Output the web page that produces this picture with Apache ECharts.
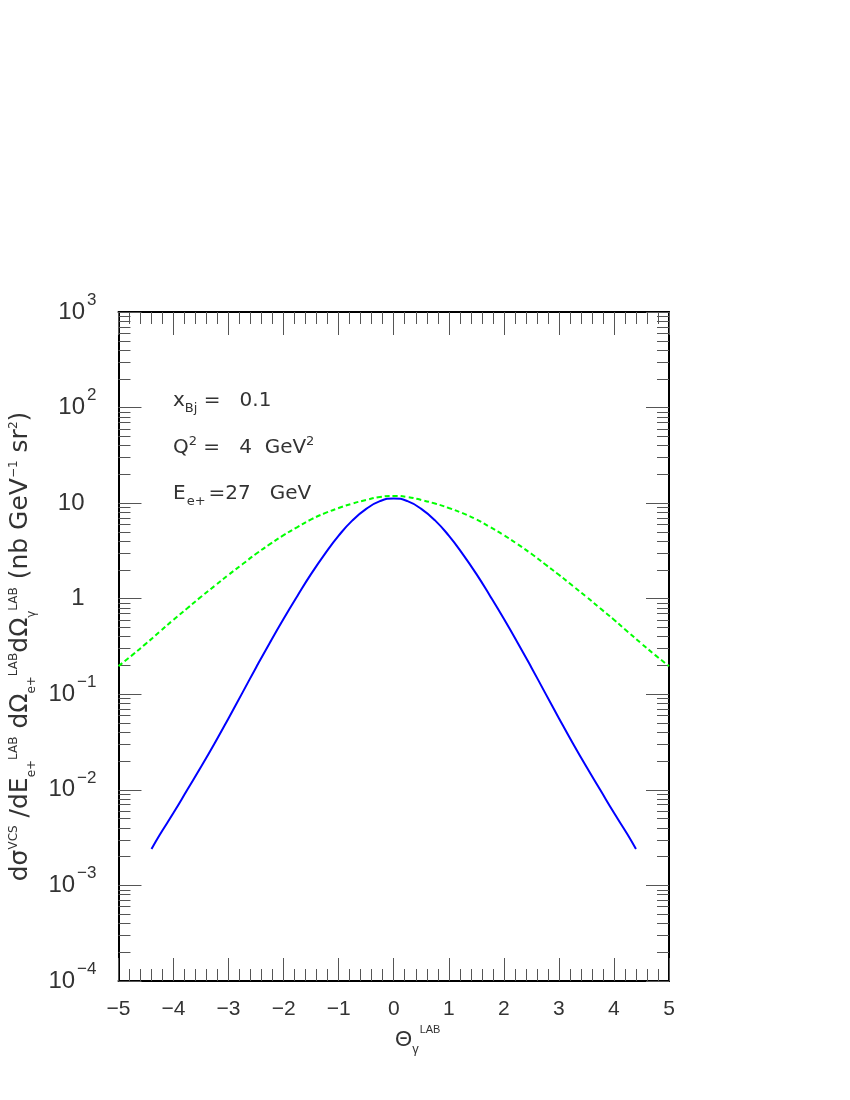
<!DOCTYPE html>
<html><head><meta charset="utf-8">
<script src="https://cdn.jsdelivr.net/npm/echarts@6/dist/echarts.min.js"></script>
<style>html,body{margin:0;padding:0;background:#fff}#c{width:850px;height:1100px}</style>
</head><body><div id="c"></div>
<script>
// Theta_gamma^LAB (deg) and cross sections (nb GeV^-1 sr^2)
const blueTheta = [-4.4,-4.25,-4.0,-3.75,-3.5,-3.25,-3.0,-2.75,-2.5,-2.25,-2.0,-1.75,-1.5,-1.25,-1.0,-0.75,-0.5,-0.25,0,
                    0.25,0.5,0.75,1.0,1.25,1.5,1.75,2.0,2.25,2.5,2.75,3.0,3.25,3.5,3.75,4.0,4.25,4.4];
const blueSigma = [0.0024,0.00339,0.00575,0.0100,0.0174,0.0309,0.0562,0.1035,0.191,0.347,0.617,1.07,1.82,2.95,4.57,6.6,8.7,10.5,11.2,
                    10.5,8.7,6.6,4.57,2.95,1.82,1.07,0.617,0.347,0.191,0.1035,0.0562,0.0309,0.0174,0.0100,0.00575,0.00339,0.0024];
const greenTheta = [-5.0,-4.75,-4.5,-4.25,-4.0,-3.75,-3.5,-3.25,-3.0,-2.75,-2.5,-2.25,-2.0,-1.75,-1.5,-1.25,-1.0,-0.75,-0.5,-0.25,0,
                     0.25,0.5,0.75,1.0,1.25,1.5,1.75,2.0,2.25,2.5,2.75,3.0,3.25,3.5,3.75,4.0,4.25,4.5,4.75,5.0];
const greenSigma = [0.197,0.257,0.339,0.452,0.603,0.794,1.047,1.365,1.78,2.29,2.95,3.72,4.62,5.62,6.76,7.85,8.9,9.9,10.8,11.6,11.9,
                     11.6,10.8,9.9,8.9,7.85,6.76,5.62,4.62,3.72,2.95,2.29,1.78,1.365,1.047,0.794,0.603,0.452,0.339,0.257,0.197];
const xTicks = [-5,-4,-3,-2,-1,0,1,2,3,4,5];
const yDecades = [-4,-3,-2,-1,0,1,2,3];

const FONT = 'Liberation Sans';
const FONT2 = 'DejaVu Sans';
const TXT = '#333';
const minorLogTicks = [];
yDecades.slice(0, -1).forEach(k => { for (let m = 2; m <= 9; m++) minorLogTicks.push(k + Math.log10(m)); });

const toLog = (xs, ys) => xs.map((x, i) => [x, Math.log10(ys[i])]);

const frame = { show: true, onZero: false, lineStyle: { color: '#000', width: 2 } };
const tickStyle = { color: '#555', width: 1 };

function yAxisDef(pos, withLabels, minor) {
  return {
    type: 'value', position: pos, min: yDecades[0], max: yDecades[yDecades.length - 1], interval: 1,
    axisLine: minor ? { show: false, onZero: false } : frame,
    splitLine: { show: false },
    axisTick: minor
      ? { show: true, inside: true, length: 12, lineStyle: tickStyle, customValues: minorLogTicks }
      : { show: true, inside: true, length: 23, lineStyle: tickStyle },
    axisLabel: withLabels ? {
      show: true, margin: 22, fontFamily: FONT, color: TXT,
      formatter: v => {
        const k = Math.round(v);
        if (k === 0) return '{b|1}{p| }';
        if (k === 1) return '{b|10}{p| }';
        return '{b|10}{s|' + (k < 0 ? '\u2212' : '') + Math.abs(k) + '}';
      },
      rich: {
        b: { fontSize: 24, lineHeight: 36, fontFamily: FONT, color: TXT },
        s: { fontSize: 17, height: 12, verticalAlign: 'top', fontFamily: FONT, color: TXT, padding: [0, 0, 0, 2] },
        p: { fontSize: 16, width: 12, fontFamily: FONT }
      }
    } : { show: false }
  };
}

function xAxisDef(pos, withLabels) {
  return {
    type: 'value', position: pos, min: xTicks[0], max: xTicks[xTicks.length - 1], interval: 1,
    axisLine: frame,
    splitLine: { show: false },
    axisTick: { show: true, inside: true, length: 23, lineStyle: tickStyle },
    minorTick: { show: true, splitNumber: 5, length: 12, lineStyle: tickStyle },
    minorSplitLine: { show: false },
    axisLabel: withLabels ? {
      show: true, margin: 18, fontSize: 21, fontFamily: FONT, color: TXT,
      showMinLabel: true, showMaxLabel: true,
      formatter: v => (v < 0 ? '\u2212' : '') + Math.abs(v)
    } : { show: false }
  };
}

const xMain = xAxisDef('bottom', true);
xMain.name = '{b|\u0398}{sub|\u03b3}{sup|LAB}';
xMain.nameLocation = 'middle';
xMain.nameGap = 40;
xMain.nameTextStyle = {
  padding: [0, 0, 0, 48],
  rich: {
    b: { fontSize: 22, lineHeight: 36, fontFamily: FONT, color: TXT },
    sub: { fontSize: 13, height: 18, verticalAlign: 'bottom', fontFamily: FONT, color: TXT },
    sup: { fontSize: 11, height: 16, verticalAlign: 'top', fontFamily: FONT, color: TXT, padding: [0, 0, 0, 1] }
  }
};

const yMain = yAxisDef('left', true, false);
yMain.name = '{b|d\u03c3}{sup|VCS}{b| /dE}{sub|e+}{sup|LAB}{b| d\u03a9}{sub|e+}{sup|LAB}{b|d\u03a9}{sub|\u03b3}{sup|LAB}{b| (nb GeV}{sup|\u22121}{b| sr}{sup|2}{b|)}';
yMain.nameLocation = 'middle';
yMain.nameRotate = 90;
yMain.nameGap = 58;
yMain.nameTextStyle = {
  rich: {
    b: { fontSize: 25, lineHeight: 40, fontFamily: FONT2, color: TXT },
    sup: { fontSize: 12, height: 27, verticalAlign: 'top', fontFamily: FONT2, color: TXT },
    sub: { fontSize: 12, height: 18, verticalAlign: 'bottom', fontFamily: FONT2, color: TXT }
  }
};

const annRich = {
  b: { fontSize: 20, lineHeight: 36, fontFamily: FONT2, color: TXT },
  sub: { fontSize: 13, height: 20, verticalAlign: 'bottom', fontFamily: FONT2, color: TXT },
  sube: { fontSize: 13, height: 20, verticalAlign: 'bottom', fontFamily: FONT2, color: TXT, padding: [0, 3, 0, 1] },
  sup: { fontSize: 13, height: 24, verticalAlign: 'top', fontFamily: FONT2, color: TXT }
};
function ann(text, y) {
  return { type: 'text', x: 173, y: y, silent: true,
    style: { text: text, rich: annRich, verticalAlign: 'middle', align: 'left', fill: TXT } };
}

const chart = echarts.init(document.getElementById('c'), null, { renderer: 'canvas' });
chart.setOption({
  backgroundColor: '#fff',
  animation: false,
  grid: { left: 118, top: 312, width: 551, height: 669, containLabel: false },
  xAxis: [xMain, xAxisDef('top', false)],
  yAxis: [yMain, yAxisDef('left', false, true), yAxisDef('right', false, false), yAxisDef('right', false, true)],
  series: [
    { type: 'line', name: 'blue', xAxisIndex: 0, yAxisIndex: 0, data: toLog(blueTheta, blueSigma),
      smooth: 0.5, showSymbol: false, silent: true,
      lineStyle: { color: '#0000ff', width: 2 } },
    { type: 'line', name: 'green', xAxisIndex: 0, yAxisIndex: 0, data: toLog(greenTheta, greenSigma),
      smooth: 0.5, showSymbol: false, silent: true,
      lineStyle: { color: '#00ff00', width: 2, type: [5, 3] } }
  ],
  graphic: [
    ann('{b|x}{sub|Bj}{b| =   0.1}', 401),
    ann('{b|Q}{sup|2}{b| =   4  GeV}{sup|2}', 448),
    ann('{b|E}{sube|e+}{b|=27   GeV}', 494)
  ]
});
</script></body></html>
